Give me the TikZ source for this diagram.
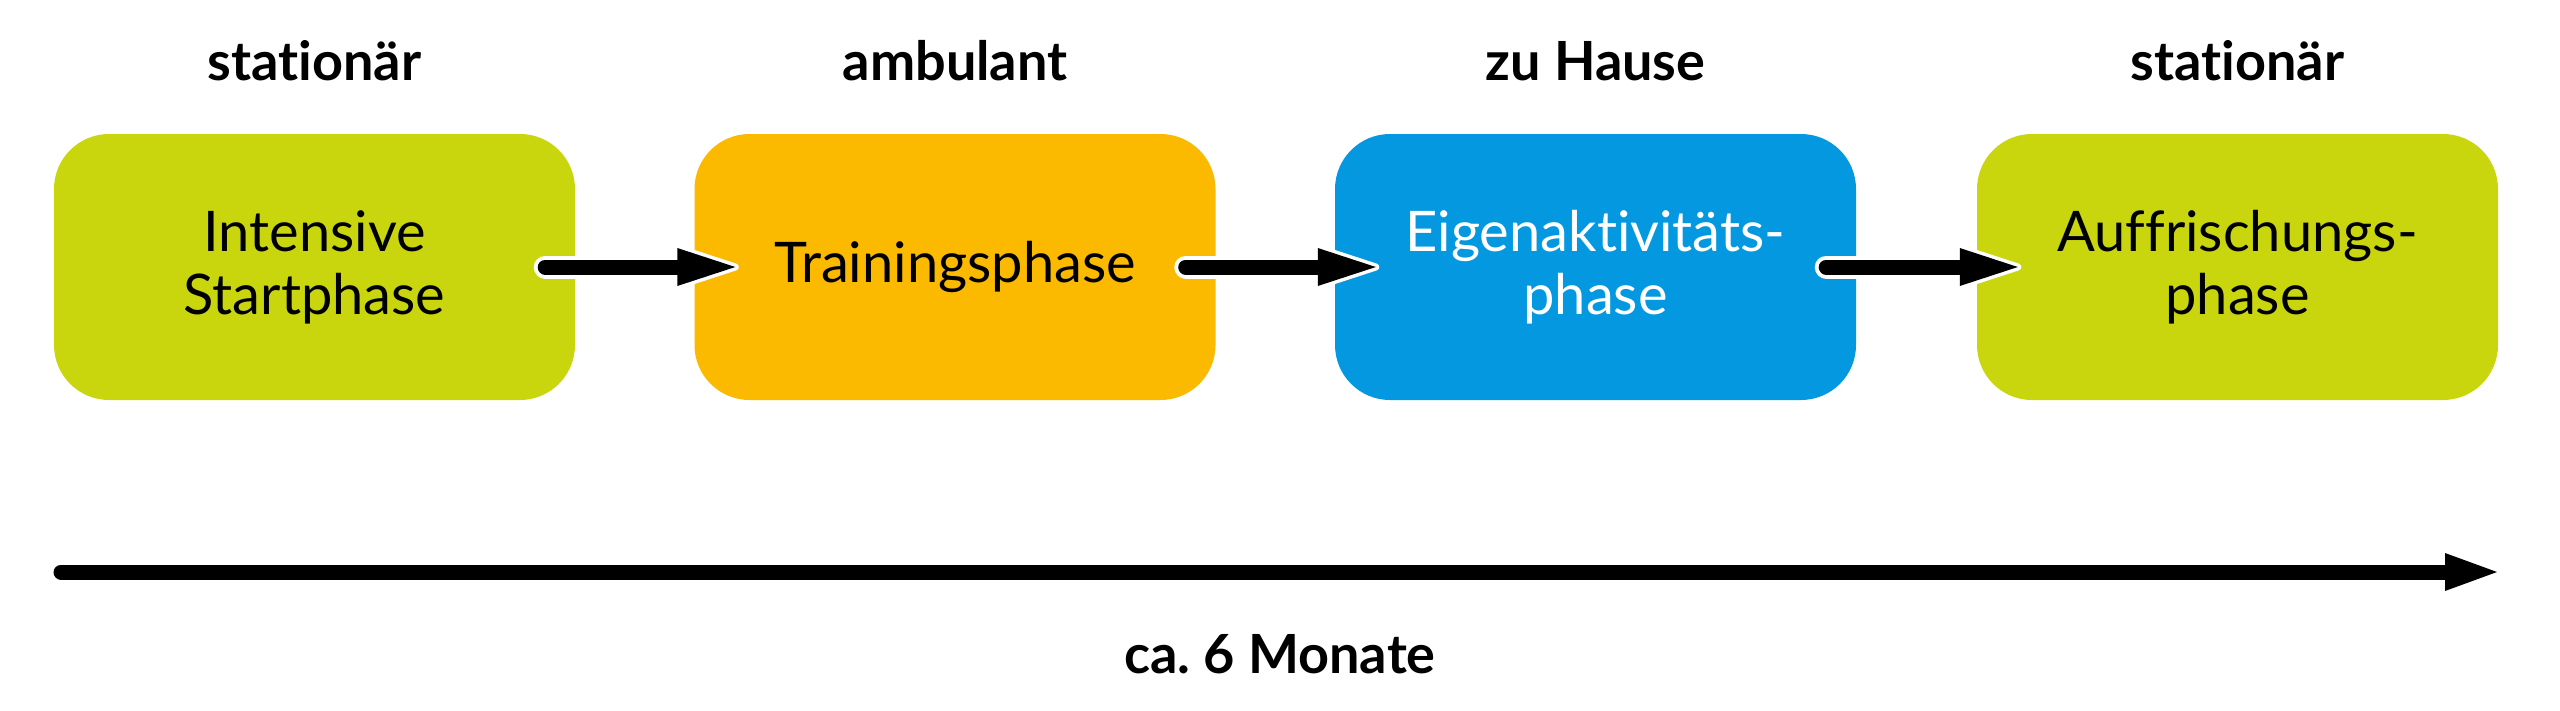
\documentclass[tikz,border=0pt]{standalone}
\usepackage{fontspec}
\setmainfont{Lato}[Ligatures={NoCommon}]
\usetikzlibrary{calc}
\definecolor{cgreen}{RGB}{201,214,14}
\definecolor{corange}{RGB}{251,185,0}
\definecolor{cblue}{RGB}{3,152,224}
\frenchspacing
\begin{document}
\begin{tikzpicture}[x=1pt,y=-1pt,
  box/.style={rounded corners=55pt, minimum width=521pt, minimum height=266pt, align=center, inner sep=0pt, font=\fontsize{56}{63}\selectfont},
  lab/.style={anchor=base, font=\fontsize{54}{62}\selectfont\bfseries},
  shaftout/.style={white, line width=23pt, line cap=round},
  shaft/.style={black, line width=15pt, line cap=round},
  headout/.style={fill=white, draw=white, line width=7pt, line join=round},
  head/.style={fill=black}]
\useasboundingbox (0,0) rectangle (2560,710);
\node[box, fill=cgreen] (b1) at (314.5,267) {Intensive\\Startphase};
\node[box, fill=corange] (b2) at (955,267) {Trainingsphase};
\node[box, fill=cblue, text=white] (b3) at (1595.5,267) {Eigenaktivitäts-\\phase};
\node[box, fill=cgreen] (b4) at (2237.5,267) {Auffrischungs-\\phase};
\node[lab] (l1) at (314.5,80) {stationär};
\node[lab] (l2) at (955,80) {ambulant};
\node[lab] (l3) at (1595.5,80) {zu Hause};
\node[lab] (l4) at (2237.5,80) {stationär};
\foreach \a/\b in {b1/b2,b2/b3,b3/b4}{
  \coordinate (s) at ($(\a.east)+(-30,0)$);
  \coordinate (t) at ($(\b.west)+(41,0)$);
  \coordinate (m) at ($(t)+(-58,0)$);
  \draw[shaftout] (s) -- (m);
  \path[headout] (t) -- ($(m)+(0,-19)$) -- ($(m)+(0,19)$) -- cycle;
  \draw[shaft] (s) -- (m);
  \path[head] (t) -- ($(m)+(0,-19)$) -- ($(m)+(0,19)$) -- cycle;
}
\coordinate (tl) at (61,572);
\coordinate (tr) at (2497,572);
\coordinate (tm) at ($(tr)+(-52,0)$);
\draw[shaft] (tl) -- (tm);
\path[head] (tr) -- ($(tm)+(0,-19)$) -- ($(tm)+(0,19)$) -- cycle;
\node[lab] (dur) at (1280,673) {ca. 6 Monate};
\end{tikzpicture}
\end{document}
